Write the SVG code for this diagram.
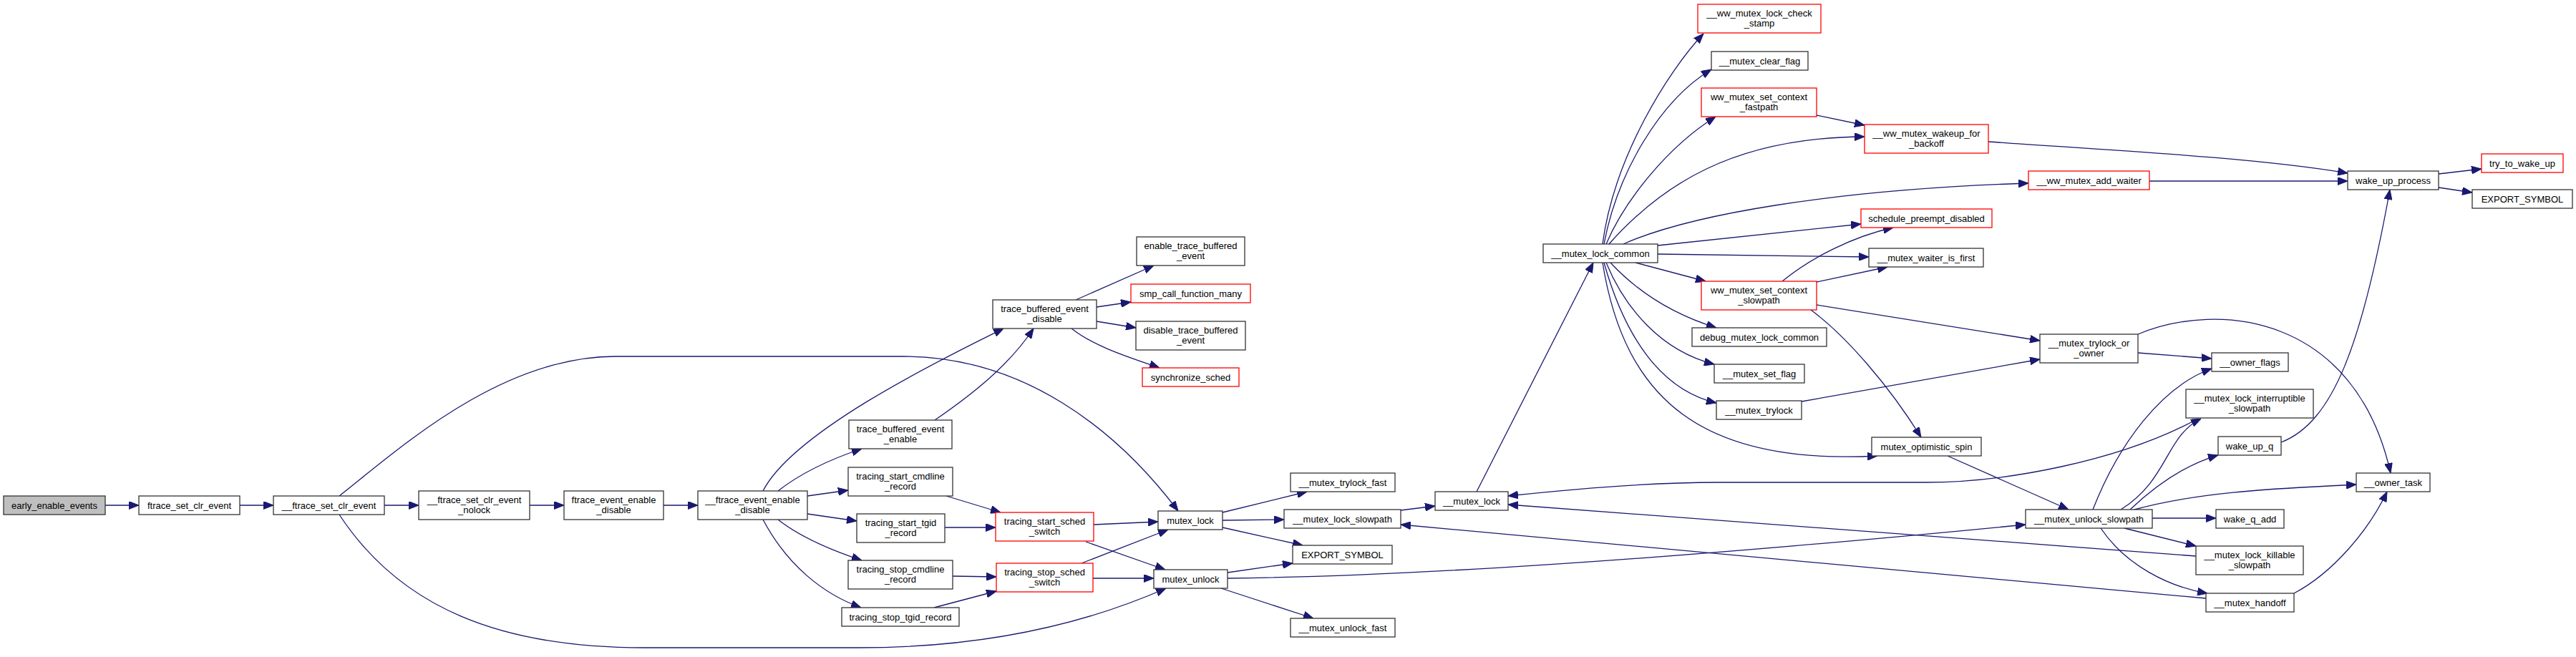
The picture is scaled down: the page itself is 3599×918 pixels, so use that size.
<svg xmlns="http://www.w3.org/2000/svg" width="3599" height="918" viewBox="0 0 3599 918">
<defs>
<style>
.e{fill:none;stroke:#191970;stroke-width:1.3;marker-end:url(#a)}
.nd{fill:#fff;stroke:#333;stroke-width:1.3}
.rd{fill:#fff;stroke:#ff0000;stroke-width:1.3}
.rt{fill:#bfbfbf;stroke:#333;stroke-width:1.3}
text{font-family:"Liberation Sans",Arial,Helvetica,sans-serif;font-size:13px;text-anchor:middle;fill:#000}
</style>
<marker id="a" markerUnits="userSpaceOnUse" markerWidth="14" markerHeight="11" refX="14" refY="5.5" orient="auto">
<path d="M0,0 L14,5.5 L0,11 z" fill="#191970" stroke="#191970" stroke-width="1"/>
</marker>
</defs>
<rect width="3599" height="918" fill="#fff"/>
<g id="edges">
<path class="e" d="M147,706 L194,706"/>
<path class="e" d="M335,706 L382,706"/>
<path class="e" d="M537,706 L585,706"/>
<path class="e" d="M474,693 C560,625 700,498 860,498 L1262,498 C1430,498 1560,600 1646,714"/>
<path class="e" d="M474,719 C560,850 700,905 900,905 L1200,905 C1380,905 1520,870 1629,822"/>
<path class="e" d="M740,706 L788,706"/>
<path class="e" d="M927,706 L975,706"/>
<path class="e" d="M1066,686 C1110,600 1330,495 1402,459"/>
<path class="e" d="M1087,686 C1120,660 1165,640 1204,627"/>
<path class="e" d="M1128,693 L1185,685"/>
<path class="e" d="M1128,718 L1197,728"/>
<path class="e" d="M1087,726 C1120,752 1165,770 1204,783"/>
<path class="e" d="M1066,726 C1100,790 1150,830 1203,849"/>
<path class="e" d="M1306,587 C1360,550 1410,510 1444,459"/>
<path class="e" d="M1503,419 L1612,371"/>
<path class="e" d="M1532,429 L1580,422"/>
<path class="e" d="M1532,449 L1587,458"/>
<path class="e" d="M1497,459 C1530,485 1580,500 1620,514"/>
<path class="e" d="M1322,693 L1398,716"/>
<path class="e" d="M1320,737 L1391,737"/>
<path class="e" d="M1331,805 L1392,806"/>
<path class="e" d="M1305,849 L1392,826"/>
<path class="e" d="M1528,733 L1618,729"/>
<path class="e" d="M1517,757 L1628,796"/>
<path class="e" d="M1511,787 L1632,740"/>
<path class="e" d="M1527,808 L1612,808"/>
<path class="e" d="M1708,716 L1826,687"/>
<path class="e" d="M1708,727 L1794,726"/>
<path class="e" d="M1708,737 L1820,762"/>
<path class="e" d="M1715,800 L1806,787"/>
<path class="e" d="M1706,822 L1835,864"/>
<path class="e" d="M1715,808 C2000,805 2400,775 2830,733"/>
<path class="e" d="M1957,713 L2005,707"/>
<path class="e" d="M2063,687 L2226,367"/>
<path class="e" d="M3071,585 C2960,645 2800,674 2690,674 L2400,674 C2300,674 2200,683 2107,693"/>
<path class="e" d="M3068,777 L2107,705"/>
<path class="e" d="M3082,836 L1957,733"/>
<path class="e" d="M2239,341 C2255,220 2330,100 2380,47"/>
<path class="e" d="M2241,341 C2260,240 2320,140 2391,97"/>
<path class="e" d="M2244,341 C2270,280 2330,205 2397,163"/>
<path class="e" d="M2248,341 C2320,260 2420,192 2605,191"/>
<path class="e" d="M2268,341 C2360,300 2560,265 2834,256"/>
<path class="e" d="M2316,343 L2600,313"/>
<path class="e" d="M2316,355 L2611,359"/>
<path class="e" d="M2285,367 L2383,393"/>
<path class="e" d="M2250,367 C2290,410 2340,440 2398,458"/>
<path class="e" d="M2244,367 C2270,430 2320,490 2395,509"/>
<path class="e" d="M2241,367 C2270,470 2320,545 2398,563"/>
<path class="e" d="M2239,367 C2270,560 2380,650 2623,637"/>
<path class="e" d="M2538,161 L2605,175"/>
<path class="e" d="M2490,393 C2530,360 2590,330 2645,318"/>
<path class="e" d="M2538,394 L2637,373"/>
<path class="e" d="M2538,426 L2850,476"/>
<path class="e" d="M2530,433 C2580,470 2640,540 2684,611"/>
<path class="e" d="M2517,561 L2850,502"/>
<path class="e" d="M2778,198 C2950,210 3150,220 3280,242"/>
<path class="e" d="M3003,253 L3280,253"/>
<path class="e" d="M3407,243 L3467,236"/>
<path class="e" d="M3407,262 L3454,269"/>
<path class="e" d="M3187,618 C3260,590 3300,480 3339,265"/>
<path class="e" d="M2987,493 L3090,501"/>
<path class="e" d="M2987,467 C3100,420 3290,440 3340,661"/>
<path class="e" d="M2721,637 L2890,712"/>
<path class="e" d="M2924,712 C2960,620 3020,540 3090,515"/>
<path class="e" d="M2963,712 C3030,670 3025,610 3075,585"/>
<path class="e" d="M2976,712 C3010,680 3050,650 3099,636"/>
<path class="e" d="M2982,712 C3080,685 3200,682 3292,677"/>
<path class="e" d="M3007,724 L3096,724"/>
<path class="e" d="M2968,738 L3068,763"/>
<path class="e" d="M2935,738 C2970,790 3030,820 3084,829"/>
<path class="e" d="M3205,829 C3260,800 3310,740 3335,687"/>
</g>
<g id="n1"><rect class="rt" x="5" y="693" width="142" height="26"/><text x="76" y="710.5">early_enable_events</text></g>
<g id="n2"><rect class="nd" x="194" y="693" width="141" height="26"/><text x="264.5" y="710.5">ftrace_set_clr_event</text></g>
<g id="n3"><rect class="nd" x="382" y="693" width="155" height="26"/><text x="459.5" y="710.5">__ftrace_set_clr_event</text></g>
<g id="n4"><rect class="nd" x="585" y="686" width="155" height="40"/><text x="662.5" y="702.5">__ftrace_set_clr_event</text><text x="662.5" y="717">_nolock</text></g>
<g id="n5"><rect class="nd" x="788" y="686" width="139" height="40"/><text x="857.5" y="702.5">ftrace_event_enable</text><text x="857.5" y="717">_disable</text></g>
<g id="n6"><rect class="nd" x="975" y="686" width="153" height="40"/><text x="1051.5" y="702.5">__ftrace_event_enable</text><text x="1051.5" y="717">_disable</text></g>
<g id="n7"><rect class="nd" x="1186" y="587" width="144" height="40"/><text x="1258" y="603.5">trace_buffered_event</text><text x="1258" y="618">_enable</text></g>
<g id="n8"><rect class="nd" x="1387" y="419" width="145" height="40"/><text x="1459.5" y="435.5">trace_buffered_event</text><text x="1459.5" y="450">_disable</text></g>
<g id="n9"><rect class="nd" x="1588" y="331" width="151" height="40"/><text x="1663.5" y="347.5">enable_trace_buffered</text><text x="1663.5" y="362">_event</text></g>
<g id="n10"><rect class="rd" x="1580" y="397" width="167" height="26"/><text x="1663.5" y="414.5">smp_call_function_many</text></g>
<g id="n11"><rect class="nd" x="1587" y="449" width="153" height="40"/><text x="1663.5" y="465.5">disable_trace_buffered</text><text x="1663.5" y="480">_event</text></g>
<g id="n12"><rect class="rd" x="1596" y="514" width="135" height="26"/><text x="1663.5" y="531.5">synchronize_sched</text></g>
<g id="n13"><rect class="nd" x="1185" y="653" width="146" height="40"/><text x="1258" y="669.5">tracing_start_cmdline</text><text x="1258" y="684">_record</text></g>
<g id="n14"><rect class="nd" x="1197" y="718" width="123" height="40"/><text x="1258.5" y="734.5">tracing_start_tgid</text><text x="1258.5" y="749">_record</text></g>
<g id="n15"><rect class="nd" x="1185" y="783" width="146" height="40"/><text x="1258" y="799.5">tracing_stop_cmdline</text><text x="1258" y="814">_record</text></g>
<g id="n16"><rect class="nd" x="1176" y="849" width="164" height="26"/><text x="1258" y="866.5">tracing_stop_tgid_record</text></g>
<g id="n17"><rect class="rd" x="1391" y="716" width="137" height="40"/><text x="1459.5" y="732.5">tracing_start_sched</text><text x="1459.5" y="747">_switch</text></g>
<g id="n18"><rect class="rd" x="1392" y="787" width="135" height="40"/><text x="1459.5" y="803.5">tracing_stop_sched</text><text x="1459.5" y="818">_switch</text></g>
<g id="n19"><rect class="nd" x="1618" y="714" width="90" height="26"/><text x="1663" y="731.5">mutex_lock</text></g>
<g id="n20"><rect class="nd" x="1612" y="796" width="103" height="26"/><text x="1663.5" y="813.5">mutex_unlock</text></g>
<g id="n21"><rect class="nd" x="1803" y="661" width="146" height="26"/><text x="1876" y="678.5">__mutex_trylock_fast</text></g>
<g id="n22"><rect class="nd" x="1794" y="712" width="163" height="26"/><text x="1875.5" y="729.5">__mutex_lock_slowpath</text></g>
<g id="n23"><rect class="nd" x="1806" y="762" width="139" height="26"/><text x="1875.5" y="779.5">EXPORT_SYMBOL</text></g>
<g id="n24"><rect class="nd" x="1803" y="864" width="146" height="26"/><text x="1876" y="881.5">__mutex_unlock_fast</text></g>
<g id="n25"><rect class="nd" x="2005" y="687" width="102" height="26"/><text x="2056" y="704.5">__mutex_lock</text></g>
<g id="n26"><rect class="nd" x="2156" y="341" width="160" height="26"/><text x="2236" y="358.5">__mutex_lock_common</text></g>
<g id="n27"><rect class="rd" x="2372" y="6" width="172" height="40"/><text x="2458" y="22.5">__ww_mutex_lock_check</text><text x="2458" y="37">_stamp</text></g>
<g id="n28"><rect class="nd" x="2391" y="72" width="135" height="26"/><text x="2458.5" y="89.5">__mutex_clear_flag</text></g>
<g id="n29"><rect class="rd" x="2377" y="123" width="161" height="40"/><text x="2457.5" y="139.5">ww_mutex_set_context</text><text x="2457.5" y="154">_fastpath</text></g>
<g id="n30"><rect class="rd" x="2605" y="174" width="173" height="40"/><text x="2691.5" y="190.5">__ww_mutex_wakeup_for</text><text x="2691.5" y="205">_backoff</text></g>
<g id="n31"><rect class="rd" x="2834" y="239" width="169" height="26"/><text x="2918.5" y="256.5">__ww_mutex_add_waiter</text></g>
<g id="n32"><rect class="rd" x="2600" y="292" width="183" height="26"/><text x="2691.5" y="309.5">schedule_preempt_disabled</text></g>
<g id="n33"><rect class="nd" x="2611" y="347" width="160" height="26"/><text x="2691" y="364.5">__mutex_waiter_is_first</text></g>
<g id="n34"><rect class="rd" x="2377" y="393" width="161" height="40"/><text x="2457.5" y="409.5">ww_mutex_set_context</text><text x="2457.5" y="424">_slowpath</text></g>
<g id="n35"><rect class="nd" x="2364" y="458" width="188" height="26"/><text x="2458" y="475.5">debug_mutex_lock_common</text></g>
<g id="n36"><rect class="nd" x="2395" y="509" width="126" height="26"/><text x="2458" y="526.5">__mutex_set_flag</text></g>
<g id="n37"><rect class="nd" x="2398" y="560" width="119" height="26"/><text x="2457.5" y="577.5">__mutex_trylock</text></g>
<g id="n38"><rect class="nd" x="2615" y="611" width="153" height="26"/><text x="2691.5" y="628.5">mutex_optimistic_spin</text></g>
<g id="n39"><rect class="nd" x="2850" y="467" width="137" height="40"/><text x="2918.5" y="483.5">__mutex_trylock_or</text><text x="2918.5" y="498">_owner</text></g>
<g id="n40"><rect class="nd" x="3090" y="493" width="107" height="26"/><text x="3143.5" y="510.5">__owner_flags</text></g>
<g id="n41"><rect class="nd" x="3054" y="544" width="178" height="40"/><text x="3143" y="560.5">__mutex_lock_interruptible</text><text x="3143" y="575">_slowpath</text></g>
<g id="n42"><rect class="nd" x="3099" y="610" width="88" height="26"/><text x="3143" y="627.5">wake_up_q</text></g>
<g id="n43"><rect class="nd" x="3292" y="661" width="103" height="26"/><text x="3343.5" y="678.5">__owner_task</text></g>
<g id="n44"><rect class="nd" x="2830" y="712" width="177" height="26"/><text x="2918.5" y="729.5">__mutex_unlock_slowpath</text></g>
<g id="n45"><rect class="nd" x="3096" y="712" width="95" height="26"/><text x="3143.5" y="729.5">wake_q_add</text></g>
<g id="n46"><rect class="nd" x="3068" y="763" width="150" height="40"/><text x="3143" y="779.5">__mutex_lock_killable</text><text x="3143" y="794">_slowpath</text></g>
<g id="n47"><rect class="nd" x="3082" y="829" width="123" height="26"/><text x="3143.5" y="846.5">__mutex_handoff</text></g>
<g id="n48"><rect class="nd" x="3280" y="239" width="127" height="26"/><text x="3343.5" y="256.5">wake_up_process</text></g>
<g id="n49"><rect class="rd" x="3467" y="215" width="114" height="26"/><text x="3524" y="232.5">try_to_wake_up</text></g>
<g id="n50"><rect class="nd" x="3454" y="265" width="140" height="26"/><text x="3524" y="282.5">EXPORT_SYMBOL</text></g>
</svg>
